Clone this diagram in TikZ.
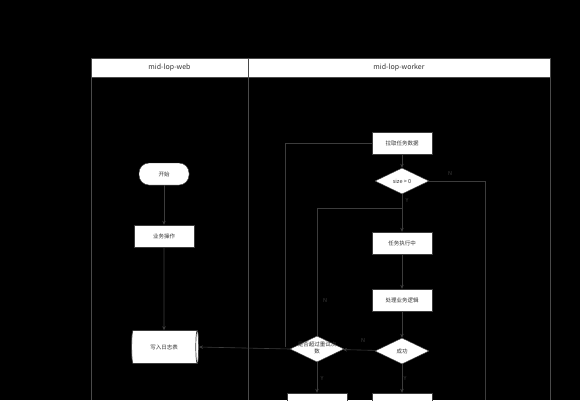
\documentclass[tikz,border=0pt]{standalone}
\usepackage{fontspec}
\setmainfont{Noto Sans CJK SC}
\usetikzlibrary{shapes.geometric,arrows.meta}
\definecolor{ln}{HTML}{3C3C3C}
\definecolor{lane}{HTML}{4A4A4A}
\definecolor{tx}{HTML}{333333}
\begin{document}
\begin{tikzpicture}[x=1pt,y=-1pt,
  every node/.style={font=\fontsize{5.5}{6.5}\selectfont, text=tx},
  box/.style={draw=ln, fill=white, minimum width=60pt, minimum height=22pt, inner sep=1pt},
  startbox/.style={draw=ln, fill=white, rounded corners=10pt, minimum width=50pt, minimum height=22pt},
  dec/.style={draw=ln, fill=white, diamond, aspect=2.1, minimum width=54pt, minimum height=26pt, inner sep=0pt},
  logbox/.style={draw=ln, line width=0.7pt, fill=white, cylinder, shape aspect=0.4, minimum width=33pt, minimum height=67pt, inner sep=1pt},
  hdr/.style={draw=lane, fill=white, minimum height=19pt, inner sep=0pt, font=\fontsize{7}{8}\selectfont, text=tx},
  arr/.style={draw=ln, line width=0.6pt, -{Stealth[length=4pt,width=3.5pt]}},
  lnk/.style={draw=ln, line width=0.6pt},
  lbl/.style={font=\fontsize{5.5}{6.5}\selectfont, text=ln}]
\fill[black] (0,0) rectangle (580,400);
\useasboundingbox (0,0) rectangle (580,400);
\begin{scope}
\clip (0,0) rectangle (580,400);
% lanes
\draw[lane, line width=0.8pt] (91,77) -- (91,400);
\draw[lane, line width=0.8pt] (248,77) -- (248,400);
\draw[lane, line width=0.8pt] (550,77) -- (550,400);
\node[hdr, minimum width=157pt] (h1) at (169.5,67.5) {mid-lop-web};
\node[hdr, minimum width=302pt] (h2) at (399,67.5) {mid-lop-worker};
% nodes
\node[startbox] (start) at (164,174) {开始};
\node[box] (biz) at (164,236) {业务操作};
\node[logbox] (log) at (164,347) {写入日志表};
\node[box] (pull) at (402,143) {拉取任务数据};
\node[dec] (size) at (402,181) {size > 0};
\node[box] (exec) at (402,243) {任务执行中};
\node[box] (proc) at (402,300) {处理业务逻辑};
\node[dec] (succ) at (402,351) {成功};
\node[dec] (retry) at (317,349) {\smash{\makebox[0pt]{\parbox[c]{60pt}{\centering\fontsize{5.5}{6.5}\selectfont 是否超过重试次\\数}}}};
\node[box] (okbox) at (402,404) {};
\node[box] (failbox) at (317,404) {};
\coordinate (j1) at (317,208);
\coordinate (j2) at (402,208);
\coordinate (p1) at (285,143);
\coordinate (p2) at (285,347);
\coordinate (n1) at (485,181);
\coordinate (n2) at (485,400);
% edges
\draw[arr] (start) -- (biz);
\draw[arr] (biz) -- (log);
\draw[arr] (pull) -- (size);
\draw[arr] (size) -- (exec);
\draw[arr] (exec) -- (proc);
\draw[arr] (proc) -- (succ);
\draw[arr] (succ) -- (retry);
\draw[arr] (succ) -- (okbox);
\draw[arr] (retry) -- (failbox);
\draw[arr] (retry.west) -- (log.east);
\draw[lnk] (retry.north) -- (j1) -- (j2);
\draw[lnk] (pull.west) -- (p1) -- (p2);
\draw[lnk] (size.east) -- (n1) -- (n2);
% labels
\node[lbl] (lN1) at (450,173) {N};
\node[lbl] (lY1) at (407,200) {Y};
\node[lbl] (lN2) at (325,300) {N};
\node[lbl] (lN3) at (363,340) {N};
\node[lbl] (lY2) at (405,378) {Y};
\node[lbl] (lY3) at (322,378) {Y};
\end{scope}
\end{tikzpicture}
\end{document}
